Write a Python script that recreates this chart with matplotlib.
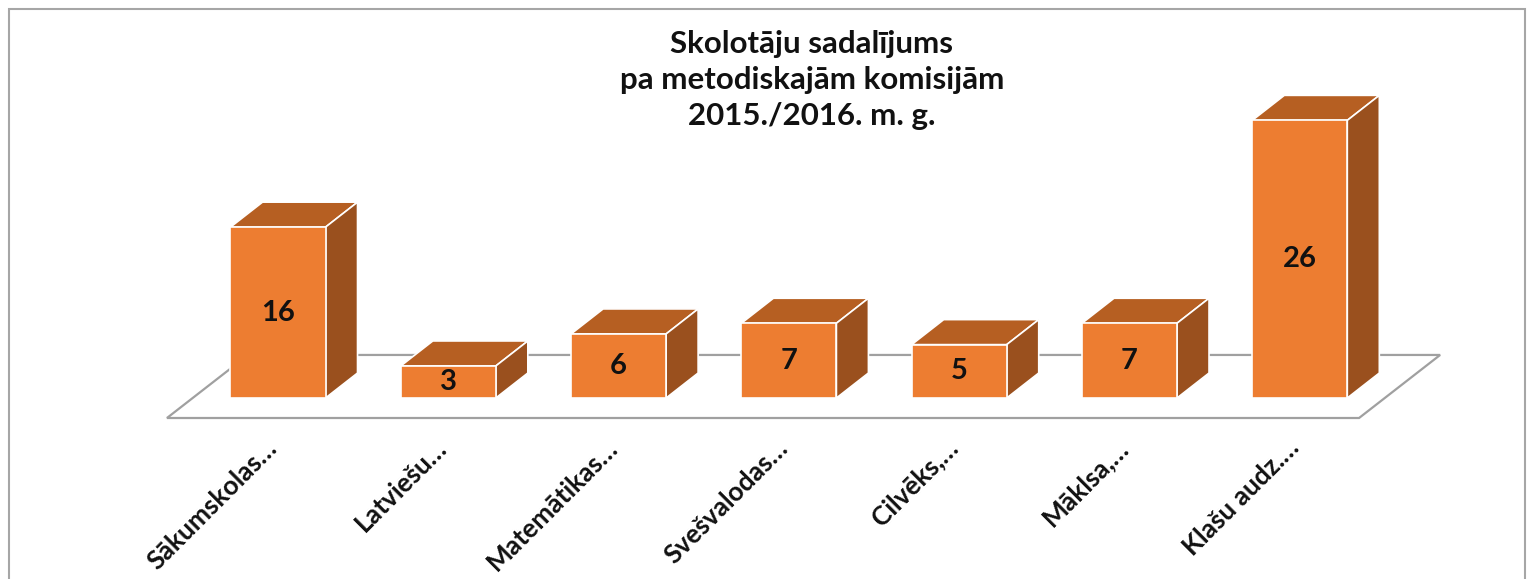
import matplotlib
matplotlib.use("Agg")
import matplotlib.pyplot as plt
from matplotlib.patches import Polygon, Rectangle

# ---- data ----
categories = ["Sākumskolas…", "Latviešu…", "Matemātikas…", "Svešvalodas…",
              "Cilvēks,…", "Māklsa,…", "Klašu audz.…"]
values = [16, 3, 6, 7, 5, 7, 26]
title = "Skolotāju sadalījums\npa metodiskajām komisijām\n2015./2016. m. g."

# ---- style ----
FRONT = "#ED7D31"
TOP = "#B65F22"
SIDE = "#9A501E"
FLOOR = "#A0A0A0"
FONT = ["Lato", "DejaVu Sans"]

W, H, DPI = 1528, 579, 100
fig = plt.figure(figsize=(W / DPI, H / DPI), dpi=DPI)
ax = fig.add_axes([0, 0, 1, 1])
ax.set_xlim(-1.6324, 7.340)
ax.set_ylim(-16.95, 37.27)
ax.axis("off")

# 3D geometry (layout, in axis units)
half_w = 0.279
bar_dx, bar_dy = 0.188, 2.34
floor_front_y, floor_back_y = -1.873, 4.03
floor_x0, floor_x1 = -0.652, 6.348
floor_dx = 0.476

# floor
floor = Polygon([(floor_x0, floor_front_y), (floor_x1, floor_front_y),
                 (floor_x1 + floor_dx, floor_back_y), (floor_x0 + floor_dx, floor_back_y)],
                closed=True, facecolor="white", edgecolor=FLOOR, lw=1.6, zorder=1)
ax.add_patch(floor)

for i, v in enumerate(values):
    x0, x1 = i - half_w, i + half_w
    front = Polygon([(x0, 0), (x1, 0), (x1, v), (x0, v)], closed=True,
                    facecolor=FRONT, edgecolor="white", lw=1.2, zorder=3)
    top = Polygon([(x0, v), (x1, v), (x1 + bar_dx, v + bar_dy), (x0 + bar_dx, v + bar_dy)],
                  closed=True, facecolor=TOP, edgecolor="white", lw=1.2, zorder=2)
    side = Polygon([(x1, 0), (x1 + bar_dx, bar_dy), (x1 + bar_dx, v + bar_dy), (x1, v)],
                   closed=True, facecolor=SIDE, edgecolor="white", lw=1.2, zorder=2)
    for p in (top, side, front):
        ax.add_patch(p)
    ax.text(i, v / 2, str(v), ha="center", va="center", fontsize=21,
            fontweight="bold", color="#111111", family=FONT, zorder=5)
    ax.text(i - 0.03, -4.3, categories[i], ha="right", va="center", rotation=45,
            rotation_mode="anchor", fontsize=19, fontweight="bold",
            color="#111111", family=FONT, zorder=5)

fig.text(812 / W, 1 - 80 / H, title, ha="center", va="center", fontsize=22.5,
         fontweight="bold", family=FONT, linespacing=1.35, color="#111111")

border = Rectangle((9 / W, -0.05), (1525 - 9) / W, 1.05 - 9 / H,
                   transform=fig.transFigure, fill=False, edgecolor="#A6A6A6",
                   lw=1.5)
fig.add_artist(border)

fig.savefig("out.png", dpi=DPI)
